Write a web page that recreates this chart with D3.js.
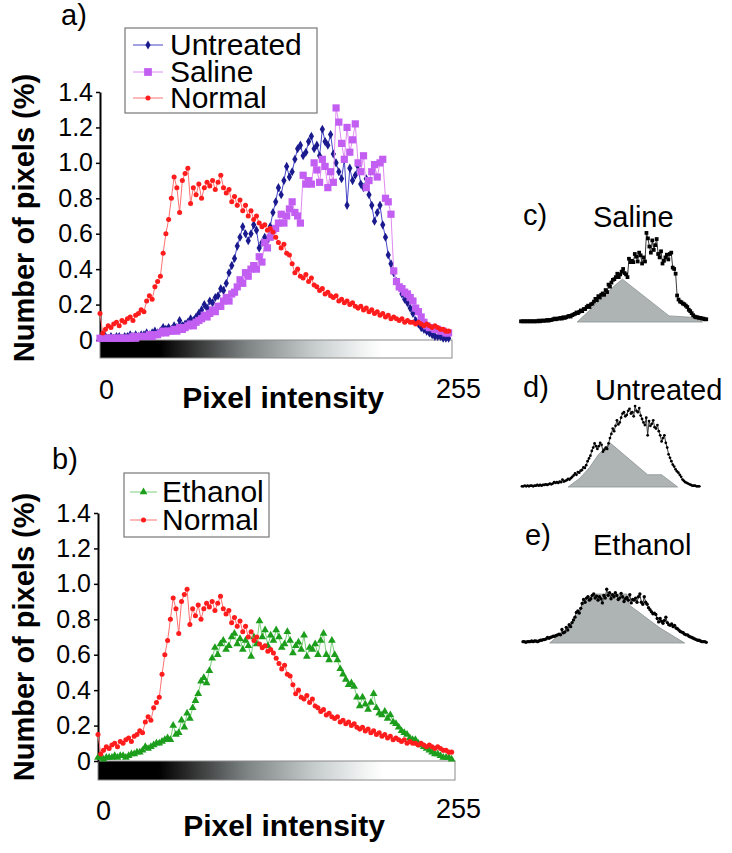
<!DOCTYPE html>
<html><head><meta charset="utf-8">
<script src="https://cdn.jsdelivr.net/npm/d3@7"></script>
<style>body{margin:0;background:#fff}</style>
</head><body>
<svg id="fig" width="732" height="853"></svg>
<script>
// ---------- DATA ----------
// intensity bins (every 2nd grey level, 0..254)
const bins = d3.range(0, 256, 2);

const normal = [0.15,0.04,0.06,0.08,0.07,0.09,0.10,0.08,0.11,0.10,
0.12,0.13,0.11,0.14,0.15,0.17,0.16,0.22,0.25,0.23,
0.30,0.33,0.36,0.49,0.60,0.68,0.80,0.92,0.86,0.72,
0.90,0.94,0.97,0.77,0.86,0.82,0.88,0.80,0.86,0.89,
0.87,0.90,0.85,0.89,0.93,0.86,0.83,0.85,0.78,0.81,
0.76,0.79,0.73,0.76,0.70,0.73,0.68,0.70,0.66,0.64,
0.65,0.62,0.63,0.61,0.58,0.55,0.52,0.54,0.49,0.48,
0.43,0.38,0.40,0.36,0.35,0.37,0.33,0.35,0.31,0.30,
0.28,0.29,0.26,0.27,0.25,0.24,0.25,0.22,0.23,0.21,
0.22,0.20,0.21,0.19,0.18,0.19,0.17,0.18,0.16,0.17,
0.15,0.16,0.14,0.15,0.13,0.14,0.12,0.13,0.12,0.11,
0.12,0.10,0.11,0.10,0.10,0.09,0.10,0.09,0.08,0.09,
0.08,0.07,0.08,0.07,0.06,0.06,0.05,0.05];

const untreated = [0.01,0.01,0.02,0.01,0.02,0.01,0.02,0.02,0.01,0.02,
0.02,0.03,0.02,0.03,0.02,0.03,0.03,0.04,0.03,0.04,
0.05,0.04,0.05,0.07,0.06,0.07,0.06,0.08,0.07,0.11,
0.08,0.09,0.10,0.12,0.11,0.13,0.15,0.17,0.20,0.18,
0.22,0.21,0.24,0.25,0.29,0.28,0.32,0.38,0.42,0.46,
0.53,0.58,0.64,0.60,0.56,0.60,0.65,0.62,0.52,0.55,
0.58,0.56,0.64,0.72,0.78,0.86,0.82,0.90,0.98,0.92,
0.95,1.02,1.08,1.10,1.04,1.06,1.12,1.15,1.08,1.10,
1.04,1.19,1.12,1.10,1.16,1.05,1.00,0.95,0.91,1.02,
0.76,0.97,0.90,0.93,0.98,0.88,0.86,0.91,0.82,0.76,
0.67,0.72,0.76,0.65,0.58,0.48,0.43,0.38,0.33,0.30,
0.26,0.23,0.21,0.18,0.15,0.11,0.09,0.07,0.06,0.05,
0.04,0.03,0.02,0.02,0.02,0.01,0.01,0.01];

const saline = [0.01,0.01,0.01,0.01,0.01,0.01,0.01,0.01,0.01,0.01,
0.01,0.01,0.02,0.01,0.02,0.02,0.02,0.02,0.03,0.02,
0.03,0.03,0.04,0.05,0.04,0.05,0.05,0.06,0.05,0.07,
0.06,0.07,0.08,0.09,0.08,0.10,0.11,0.12,0.14,0.13,
0.15,0.17,0.16,0.19,0.19,0.22,0.24,0.22,0.26,0.27,
0.30,0.34,0.32,0.38,0.36,0.40,0.42,0.40,0.47,0.44,
0.55,0.52,0.58,0.62,0.63,0.66,0.71,0.66,0.70,0.74,
0.78,0.72,0.70,0.66,0.93,0.88,0.90,0.88,1.00,0.96,
0.89,1.02,0.98,0.86,0.95,0.89,1.31,1.23,1.11,1.02,
1.20,1.06,1.13,1.22,1.00,0.95,1.04,0.86,0.90,0.95,
0.99,0.92,1.00,1.02,0.80,0.78,0.71,0.39,0.33,0.30,
0.29,0.27,0.26,0.24,0.22,0.18,0.16,0.13,0.10,0.08,
0.07,0.07,0.06,0.06,0.05,0.05,0.04,0.04];

const ethanol = [0.02,0.02,0.01,0.02,0.02,0.02,0.03,0.02,0.03,0.03,
0.02,0.03,0.04,0.04,0.05,0.05,0.06,0.08,0.07,0.08,
0.09,0.10,0.10,0.11,0.12,0.13,0.12,0.20,0.15,0.16,
0.23,0.19,0.27,0.24,0.30,0.34,0.38,0.45,0.47,0.44,
0.51,0.58,0.64,0.60,0.66,0.68,0.63,0.65,0.70,0.72,
0.66,0.69,0.63,0.68,0.65,0.59,0.70,0.66,0.79,0.70,
0.74,0.65,0.71,0.68,0.74,0.70,0.64,0.66,0.73,0.68,
0.61,0.65,0.67,0.63,0.71,0.59,0.64,0.63,0.66,0.60,
0.68,0.72,0.60,0.57,0.68,0.60,0.57,0.52,0.49,0.46,
0.43,0.44,0.42,0.36,0.31,0.36,0.32,0.29,0.33,0.38,
0.30,0.27,0.26,0.28,0.24,0.26,0.22,0.21,0.19,0.17,
0.16,0.15,0.13,0.12,0.12,0.10,0.09,0.08,0.07,0.06,
0.05,0.04,0.04,0.03,0.02,0.02,0.02,0.01];

// shaded "normal" component in the small panels: [intensity, value]
const grayC = [[77,0],[92,0.15],[112,0.37],[130,0.55],[139,0.63],[203,0.09],[233,0.07],[249,0]];
const grayD = [[66,0],[83,0.13],[97,0.29],[109,0.47],[126,0.65],[180,0.18],[200,0.18],[223,0]];
const grayE = [[37,0],[50,0.12],[60,0.2],[70,0.33],[80,0.5],[88,0.64],[96,0.72],[144,0.72],[147,0.56],[190,0.22],[224,0]];

const yTickValues = [0,0.2,0.4,0.6,0.8,1.0,1.2,1.4];
const yTickLabels = ["0","0.2","0.4","0.6","0.8","1.0","1.2","1.4"];
const xTickLabels = ["0","255"];

// ---------- DRAW ----------
const FONT = "'Liberation Sans', Arial, sans-serif";
const svg = d3.select('#fig');
const defs = svg.append('defs');
const grad = defs.append('linearGradient').attr('id','gbar').attr('x1','0%').attr('x2','100%');
[[0,'#000'],[0.17,'#000'],[0.25,'#2a2a2a'],[0.42,'#7f8585'],[0.6,'#c4caca'],[0.74,'#f0f2f2'],[0.8,'#fff'],[1,'#fff']]
  .forEach(([o,c])=>grad.append('stop').attr('offset',o).attr('stop-color',c));

const styles = {
  untreated:{line:'#4646c8', fill:'#1a1a8e', sym:d3.symbolDiamond, size:24},
  saline:{line:'#e08af2', fill:'#c35ef2', sym:d3.symbolSquare, size:52},
  normal:{line:'#ff7070', fill:'#ff1c1c', sym:d3.symbolCircle, size:20},
  ethanol:{line:'#7ccf7c', fill:'#1c9e1c', sym:d3.symbolTriangle, size:26}
};

function drawSeries(g, x, y, vals, st) {
  const pts = bins.map((b,i)=>[b, vals[i]]);
  g.append('path').attr('d', d3.line().x(d=>x(d[0])).y(d=>y(d[1]))(pts))
    .attr('fill','none').attr('stroke',st.line).attr('stroke-width',st.lw||1);
  const sym = d3.symbol(st.sym, st.size)();
  g.append('g').selectAll('path').data(pts).join('path')
    .attr('transform', d=>`translate(${x(d[0])},${y(d[1])})`)
    .attr('d', sym).attr('fill', st.fill);
}

function mainPanel(cfg) {
  const g = svg.append('g');
  const x = d3.scaleLinear().domain([0,255]).range(cfg.xr);
  const y = d3.scaleLinear().domain([0,1.4]).range(cfg.yr);
  // gradient bar
  g.append('rect').attr('x', x(0)).attr('y', y(0)).attr('width', x(255)-x(0)+2).attr('height', cfg.barH)
    .attr('fill','url(#gbar)').attr('stroke','#8a8a8a').attr('stroke-width',1);
  // axis
  const ax = d3.axisLeft(y).tickValues(yTickValues).tickFormat((d,i)=>yTickLabels[i])
    .tickSize(4).tickSizeOuter(0).tickPadding(3);
  g.append('g').attr('transform',`translate(${x(0)},0)`).call(ax)
    .call(s=>s.select('.domain').attr('stroke','#000').attr('stroke-width',2))
    .call(s=>s.selectAll('line').attr('stroke','#000').attr('stroke-width',1.5))
    .call(s=>s.selectAll('text').attr('font-size',25).attr('font-family',FONT).attr('fill','#000'));
  // series
  cfg.series.forEach(s=>drawSeries(g, x, y, s.vals, styles[s.key]));
  // x tick labels
  g.append('text').text(xTickLabels[0]).attr('x', cfg.x0lab[0]).attr('y', cfg.x0lab[1])
    .attr('font-size',27).attr('font-family',FONT);
  g.append('text').text(xTickLabels[1]).attr('x', cfg.x255lab[0]).attr('y', cfg.x255lab[1])
    .attr('font-size',27).attr('font-family',FONT);
  // axis titles
  g.append('text').text('Pixel intensity').attr('x', cfg.xt[0]).attr('y', cfg.xt[1])
    .attr('text-anchor','middle').attr('font-size',30).attr('font-weight','bold').attr('font-family',FONT);
  g.append('text').text('Number of pixels (%)')
    .attr('transform',`translate(${cfg.yt[0]},${cfg.yt[1]}) rotate(-90)`)
    .attr('text-anchor','middle').attr('font-size',29).attr('font-weight','bold').attr('font-family',FONT);
  // panel letter
  g.append('text').text(cfg.letter[0]).attr('x', cfg.letter[1]).attr('y', cfg.letter[2])
    .attr('font-size',29).attr('font-family',FONT);
  // legend
  const L = cfg.legend;
  g.append('rect').attr('x',L.x).attr('y',L.y).attr('width',L.w).attr('height',L.h)
    .attr('fill','#fff').attr('stroke','#777').attr('stroke-width',1.2);
  L.items.forEach((it,i)=>{
    const st = styles[it.key];
    const by = L.base[i];
    const cy = by - 10;
    g.append('line').attr('x1',L.lx[0]).attr('x2',L.lx[1]).attr('y1',cy).attr('y2',cy)
      .attr('stroke',st.line).attr('stroke-width',1);
    g.append('path').attr('transform',`translate(${(L.lx[0]+L.lx[1])/2},${cy})`)
      .attr('d', d3.symbol(st.sym, it.key==='saline'?60:st.size)()).attr('fill',st.fill);
    g.append('text').text(it.label).attr('x',L.tx).attr('y',by)
      .attr('font-size',30).attr('font-family',FONT);
  });
}

mainPanel({
  xr:[100,450], yr:[340,92], barH:18,
  series:[{key:'untreated',vals:untreated},{key:'saline',vals:saline},{key:'normal',vals:normal}],
  x0lab:[99,399], x255lab:[436,398], xt:[283,408], yt:[34,218], letter:['a)',61,25],
  legend:{x:125,y:28,w:192,h:85,lx:[133,163],tx:170,base:[55,82,108],
    items:[{key:'untreated',label:'Untreated'},{key:'saline',label:'Saline'},{key:'normal',label:'Normal'}]}
});
mainPanel({
  xr:[98,453], yr:[761,513], barH:19,
  series:[{key:'ethanol',vals:ethanol},{key:'normal',vals:normal}],
  x0lab:[96,820], x255lab:[436,818], xt:[284,836], yt:[34,637], letter:['b)',52,469],
  legend:{x:124,y:473,w:145,h:64,lx:[130,157],tx:162,base:[502,530],
    items:[{key:'ethanol',label:'Ethanol'},{key:'normal',label:'Normal'}]}
});

// small panels
function smallPanel(cfg) {
  const g = svg.append('g');
  const x = d3.scaleLinear().domain([0,255]).range(cfg.xr);
  const y = d3.scaleLinear().domain([0,1]).range([cfg.base, cfg.base-68]);
  g.append('path').attr('d', d3.line().x(d=>x(d[0])).y(d=>y(d[1]))(cfg.gray)+'Z')
    .attr('fill','#aeb4b4').attr('stroke','#8c9292').attr('stroke-width',0.8);
  const pts = bins.map((b,i)=>[b, cfg.vals[i]]);
  g.append('path').attr('d', d3.line().x(d=>x(d[0])).y(d=>y(d[1]))(pts))
    .attr('fill','none').attr('stroke','#222').attr('stroke-width',0.9);
  g.append('g').selectAll('path').data(pts).join('path')
    .attr('transform', d=>`translate(${x(d[0])},${y(d[1])})`)
    .attr('d', d3.symbol(cfg.sym, cfg.size)()).attr('fill','#000');
  g.append('text').text(cfg.letter).attr('x',cfg.lx).attr('y',cfg.ly).attr('font-size',29).attr('font-family',FONT);
  g.append('text').text(cfg.title).attr('x',cfg.tx).attr('y',cfg.ty).attr('font-size',29).attr('font-family',FONT);
}
smallPanel({xr:[521,707], base:322, gray:grayC, vals:saline, sym:d3.symbolSquare, size:14,
  letter:'c)', lx:523, ly:225, title:'Saline', tx:593, ty:227});
smallPanel({xr:[522,700], base:487, gray:grayD, vals:untreated, sym:d3.symbolCircle, size:6,
  letter:'d)', lx:523, ly:397, title:'Untreated', tx:595, ty:400});
smallPanel({xr:[523,707], base:643, gray:grayE, vals:ethanol, sym:d3.symbolCircle, size:9,
  letter:'e)', lx:525, ly:545, title:'Ethanol', tx:593, ty:555});
</script>
</body></html>
